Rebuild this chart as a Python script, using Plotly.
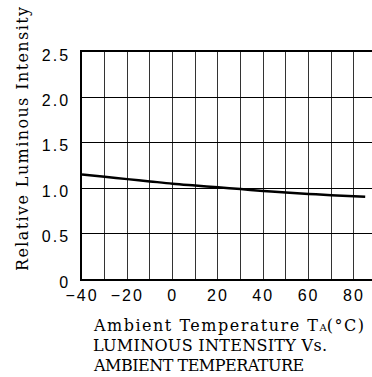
import plotly.graph_objects as go

temp = [-40, -30, -20, -10, 0, 10, 20, 30, 40, 50, 60, 70, 85]
rel_int = [1.15, 1.125, 1.10, 1.075, 1.05, 1.03, 1.01, 0.99, 0.97, 0.953, 0.937, 0.923, 0.905]

x_ticks = [-40, -20, 0, 20, 40, 60, 80]
x_tick_labels = ["\u221240", "\u221220", "0", "20", "40", "60", "80"]
y_ticks = [0, 0.5, 1.0, 1.5, 2.0, 2.5]
y_tick_labels = ["0", "0.5", "1.0", "1.5", "2.0", "2.5"]

y_title = "Relative Luminous Intensity"
x_title_main = "Ambient Temperature T"
x_title_sub = "A"
x_title_unit = "(°C)"
caption_lines = ["LUMINOUS INTENSITY Vs.", "AMBIENT TEMPERATURE"]


def spaced(s, ls):
    return f"<span style='letter-spacing:{ls}px'>{s}</span>"


fig = go.Figure()
fig.add_trace(go.Scatter(x=temp, y=rel_int, mode="lines",
                         line=dict(color="black", width=2.5, shape="spline"),
                         showlegend=False, hoverinfo="skip"))

tick_font = dict(family="Liberation Sans, Arial, sans-serif", size=16, color="black")
txt_font = dict(family="DejaVu Serif", size=16, color="black")

fig.update_xaxes(range=[-40, 88], tickvals=x_ticks,
                 ticktext=[spaced(t, 2) for t in x_tick_labels],
                 showgrid=True, gridcolor="#333", gridwidth=1,
                 minor=dict(dtick=10, tick0=-40, showgrid=True, gridcolor="#333", gridwidth=1),
                 showline=True, linecolor="black", linewidth=1.5, mirror=True,
                 ticks="", tickfont=tick_font, zeroline=False, ticklabelstandoff=1)
fig.update_yaxes(range=[0, 2.5], tickvals=y_ticks,
                 ticktext=[spaced(t, 2) for t in y_tick_labels],
                 showgrid=True, gridcolor="black", gridwidth=1,
                 showline=True, linecolor="black", linewidth=1.5,
                 ticks="", tickfont=tick_font, zeroline=False,
                 ticklabelstandoff=7, ticklabelshift=3)

fig.update_layout(
    width=372, height=377,
    margin=dict(l=82, r=0, t=52, b=98),
    plot_bgcolor="white", paper_bgcolor="white",
    annotations=[
        dict(text=spaced(y_title, 1.4), xref="paper", yref="paper",
             x=-0.205, y=0.5, xanchor="center", yanchor="middle", textangle=-90,
             showarrow=False, font=txt_font, yshift=27),
        dict(text=spaced(x_title_main, 1.5)
             + "<span style='font-size:10px'>" + x_title_sub + "</span>"
             + spaced(x_title_unit, 1.5),
             xref="paper", yref="paper", x=0.03, y=0, yshift=-46,
             xanchor="left", yanchor="middle", showarrow=False, font=txt_font),
        dict(text=spaced(caption_lines[0], 0.3), xref="paper", yref="paper",
             x=0.03, y=0, yshift=-66, xanchor="left", yanchor="middle",
             showarrow=False, font=txt_font),
        dict(text=spaced(caption_lines[1], -0.5), xref="paper", yref="paper",
             x=0.03, y=0, yshift=-86, xanchor="left", yanchor="middle",
             showarrow=False, font=txt_font),
    ],
)

fig.write_html("out.html")
